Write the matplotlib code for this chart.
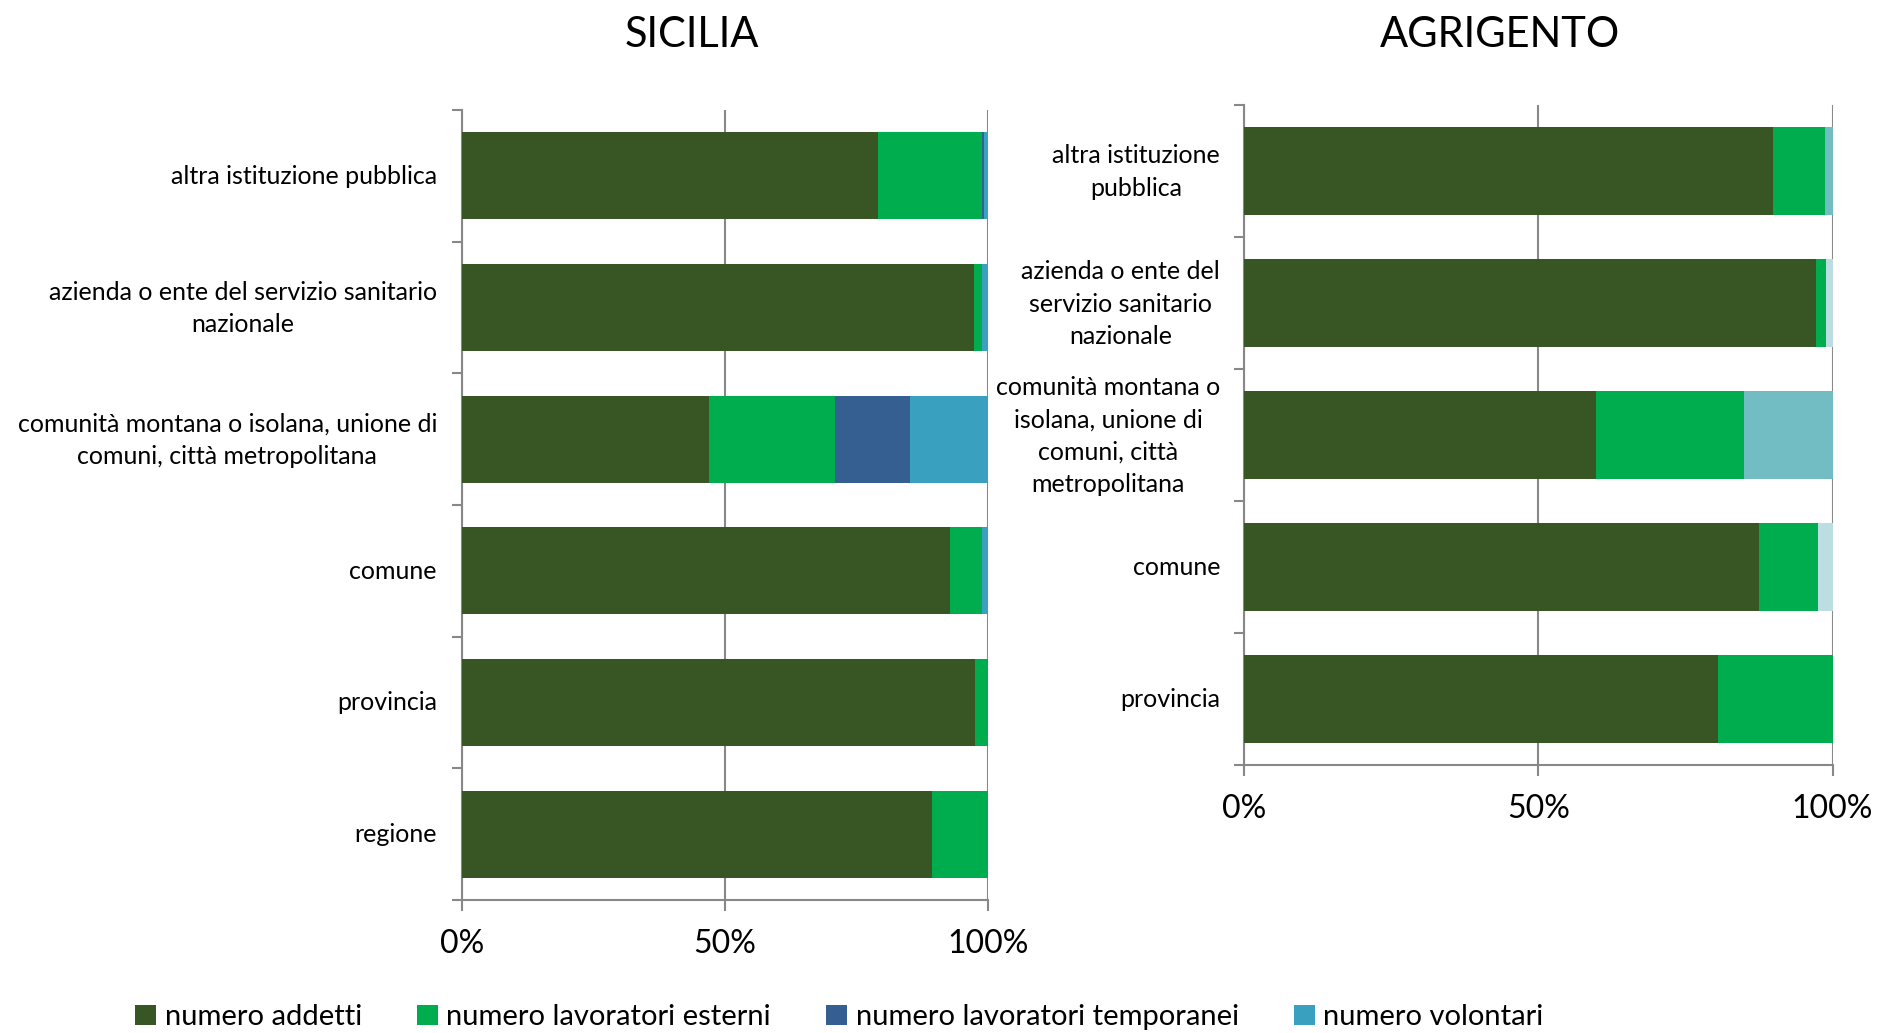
import matplotlib
matplotlib.use("Agg")
import matplotlib.pyplot as plt
import matplotlib.transforms as mtransforms
from matplotlib.patches import Patch
import numpy as np

plt.rcParams['font.family'] = ['Lato', 'DejaVu Sans']

# data (percent of total per category)
series = ["numero addetti", "numero lavoratori esterni",
          "numero lavoratori temporanei", "numero volontari"]

sic_labels = ["altra istituzione pubblica",
              "azienda o ente del servizio sanitario\nnazionale",
              "comunità montana o isolana, unione di\ncomuni, città metropolitana",
              "comune", "provincia", "regione"]
sic_addetti = [79.0, 97.3, 47.0, 92.8, 97.6, 89.4]
sic_esterni = [19.9, 1.5, 24.0, 6.1, 2.4, 10.6]
sic_temporanei = [0.4, 0.0, 14.2, 0.0, 0.0, 0.0]
sic_volontari = [0.7, 1.2, 14.8, 1.1, 0.0, 0.0]

agr_labels = ["altra istituzione\npubblica",
              "azienda o ente del\nservizio sanitario\nnazionale",
              "comunità montana o\nisolana, unione di\ncomuni, città\nmetropolitana",
              "comune", "provincia"]
agr_addetti = [89.9, 97.2, 59.8, 87.5, 80.6]
agr_esterni = [8.9, 1.7, 25.1, 10.0, 19.4]
agr_temporanei = [0.0, 0.0, 0.0, 0.0, 0.0]
agr_volontari = [1.2, 1.1, 15.1, 2.5, 0.0]

colors = ['#375623', '#00AD4E', '#355F91', '#3AA0C0']
agr_vol_colors = ['#72BCC4', '#BCDDE2', '#72BCC4', '#BCDDE2', '#72BCC4']

W, H = 1878, 1033
fig = plt.figure(figsize=(W / 100, H / 100), dpi=100)

ax1 = fig.add_axes([462 / W, 1 - 900 / H, 526 / W, 790 / H])
ax2 = fig.add_axes([1244 / W, 1 - 765 / H, 588.5 / W, 660 / H])


def draw(ax, labels, parts, part_colors, pad):
    n = len(labels)
    y = np.arange(n)
    left = np.zeros(n)
    for vals, col in zip(parts, part_colors):
        ax.barh(y, vals, left=left, height=0.66, color=col,
                edgecolor='none', zorder=3)
        left += np.array(vals)
    ax.set_xlim(0, 100)
    ax.set_ylim(n - 0.5, -0.5)
    ax.set_xticks([0, 50, 100])
    ax.set_xticklabels(["0%", "50%", "100%"], fontsize=23)
    ax.set_yticks([])
    # category labels drawn as text next to the axis
    for i, lab in enumerate(labels):
        dy = -0.01 if "\n" in lab else -0.005
        tr = ax.get_yaxis_transform() + mtransforms.ScaledTranslation(
            -pad / 100, dy, fig.dpi_scale_trans)
        ax.text(0, i, lab, transform=tr, ha='right', va='center',
                multialignment='center', fontsize=18, linespacing=1.5)
    ax.set_yticks(np.arange(n + 1) - 0.5, minor=True)
    ax.tick_params(axis='y', which='minor', length=7, color='#888888',
                   width=1.5)
    ax.tick_params(axis='x', length=8, color='#888888', width=1.5, pad=13)
    ax.grid(axis='x', color='#888888', linewidth=1.5, zorder=1)
    for s in ['top', 'right']:
        ax.spines[s].set_visible(False)
    for s in ['left', 'bottom']:
        ax.spines[s].set_color('#888888')
        ax.spines[s].set_linewidth(1.5)


draw(ax1, sic_labels,
     [sic_addetti, sic_esterni, sic_temporanei, sic_volontari],
     colors, 25)
draw(ax2, agr_labels,
     [agr_addetti, agr_esterni, agr_temporanei],
     colors[:3], 24)

# Agrigento volontari segments have their own shades
agr_left = np.array(agr_addetti) + np.array(agr_esterni) + np.array(agr_temporanei)
ax2.barh(np.arange(len(agr_labels)), agr_volontari, left=agr_left,
         height=0.66, color=agr_vol_colors, edgecolor='none', zorder=3)

fig.text(692 / W, 1 - 35 / H, "SICILIA", fontsize=30, ha='center', va='center')
fig.text(1500 / W, 1 - 35 / H, "AGRIGENTO", fontsize=30, ha='center', va='center')

handles = [Patch(facecolor=c, edgecolor='none') for c in colors]
fig.legend(handles, series, loc='center', bbox_to_anchor=(0.447, 0.0155),
           ncol=4, frameon=False, fontsize=21, handlelength=0.7,
           handleheight=0.7, handletextpad=0.3, columnspacing=1.9)

fig.savefig("out.png", dpi=100)
